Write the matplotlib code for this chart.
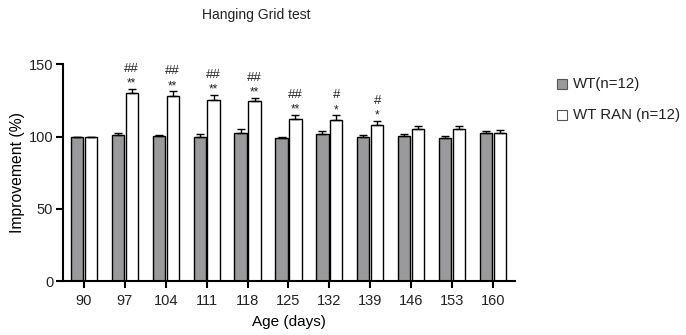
import numpy as np
import matplotlib
matplotlib.use("Agg")
import matplotlib.pyplot as plt
from matplotlib.patches import Rectangle

plt.rcParams['font.family'] = ['Liberation Sans', 'DejaVu Sans']
plt.rcParams['text.color'] = '#222222'

ages = ["90", "97", "104", "111", "118", "125", "132", "139", "146", "153", "160"]
wt_mean = [100, 101.2, 100.3, 99.6, 102.6, 99.1, 102.1, 99.6, 100.3, 98.7, 102.4]
wt_sem = [0, 1.4, 0.8, 2.3, 2.3, 0.9, 1.6, 1.4, 1.8, 1.8, 1.6]
ran_mean = [100, 129.9, 128.0, 125.2, 124.7, 112.3, 111.8, 108.1, 105.1, 105.1, 102.8]
ran_sem = [0, 3.1, 3.2, 3.7, 2.1, 2.7, 2.8, 2.6, 2.1, 2.1, 1.4]
stars = ["", "**", "**", "**", "**", "**", "*", "*", "", "", ""]
hashes = ["", "##", "##", "##", "##", "##", "#", "#", "", "", ""]
series_names = ["WT(n=12)", "WT RAN (n=12)"]

fig = plt.figure(figsize=(6.86, 3.35), dpi=100)
ax = fig.add_axes([0.0918, 0.161, 0.659, 0.647])

x = np.arange(len(ages))
w = 0.3
off = 0.17
gray = "#9a9a9c"

ax.bar(x - off, wt_mean, w, color=gray, edgecolor="black", linewidth=1.0, zorder=2)
ax.bar(x + off, ran_mean, w, color="white", edgecolor="black", linewidth=1.0, zorder=2)
ax.errorbar(x - off, wt_mean, yerr=[np.zeros(len(x)), wt_sem], fmt="none",
            ecolor="black", elinewidth=1.0, capsize=3, capthick=1.0, zorder=3)
ax.errorbar(x + off, ran_mean, yerr=[np.zeros(len(x)), ran_sem], fmt="none",
            ecolor="black", elinewidth=1.0, capsize=3, capthick=1.0, zorder=3)

# significance marks above the treated bars
for xi, m, s, st, hs in zip(x, ran_mean, ran_sem, stars, hashes):
    top = m + s
    if st:
        ax.text(xi + off, top + 1.6, st, ha="center", va="baseline", fontsize=8.5)
    if hs:
        ax.text(xi + off, top + 11.8, hs, ha="center", va="baseline", fontsize=9.5)

ax.set_xlim(-0.513, 10.54)
ax.set_ylim(0, 150)
ax.set_yticks([0, 50, 100, 150])
ax.set_xticks(x)
ax.set_xticklabels(ages)
ax.spines["top"].set_visible(False)
ax.spines["right"].set_visible(False)
for s in ("left", "bottom"):
    ax.spines[s].set_linewidth(1.5)
ax.tick_params(axis="both", width=1.5, length=5, labelsize=10.5,
               colors="black", labelcolor="#222222")
ax.tick_params(axis="y", pad=2)
ax.tick_params(axis="x", pad=4)
ax.set_xlabel("Age (days)", fontsize=11)
ax.set_ylabel("Improvement (%)", fontsize=11.3)
ax.yaxis.set_label_coords(-0.084, 0.5)
ax.xaxis.set_label_coords(0.5, -0.157)

fig.text(0.373, 0.955, "Hanging Grid test", ha="center", va="center", fontsize=10)

# Legend drawn as figure patches and labels
W, H = 686.0, 335.0
for i, (name, fc) in enumerate(zip(series_names, [gray, "white"])):
    yc = 84 + 31 * i
    fig.patches.append(Rectangle((557 / W, 1 - (yc + 5) / H), 10 / W, 10 / H,
                                 transform=fig.transFigure, facecolor=fc,
                                 edgecolor="#555555", linewidth=0.8))
    fig.text(573 / W, 1 - yc / H, name, ha="left", va="center", fontsize=10.8)

fig.savefig("out.png", dpi=100)
